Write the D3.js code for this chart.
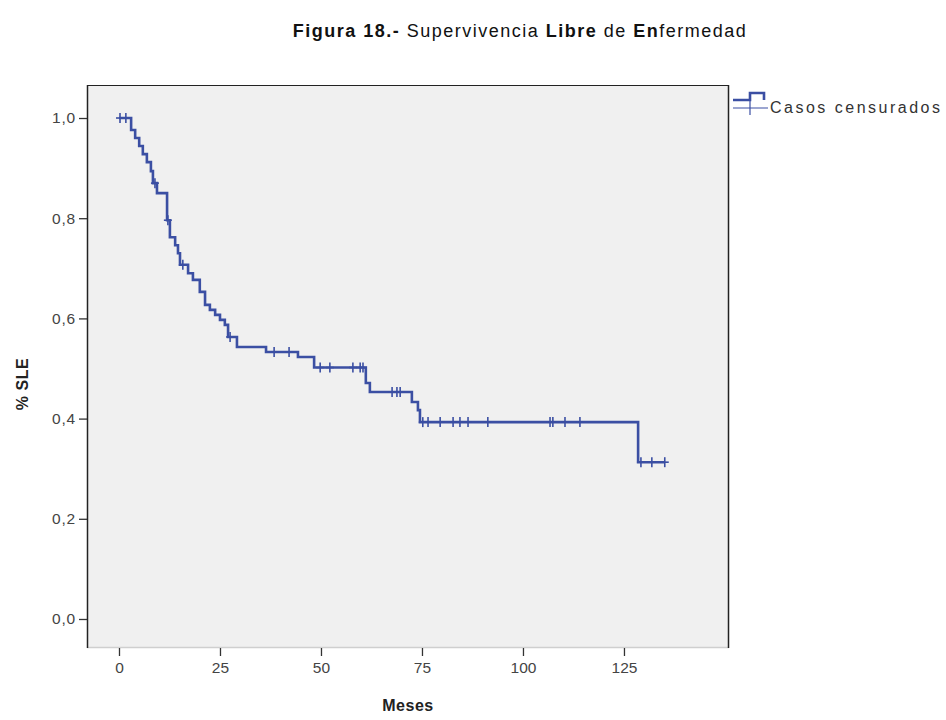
<!DOCTYPE html>
<html>
<head>
<meta charset="utf-8">
<script src="https://cdn.jsdelivr.net/npm/d3@7"></script>
<style>
  html, body { margin: 0; padding: 0; background: #ffffff; }
  svg { display: block; }
  text { font-family: "Liberation Sans", Arial, sans-serif; }
</style>
</head>
<body>
<svg id="chart" width="946" height="720"></svg>
<script>
// ---- Data ----
const eventTimes = [0, 3.0, 4.0, 5.0, 5.9, 6.9, 7.9, 8.4, 9.4, 11.9, 12.6, 13.9, 14.6, 15.1, 17.1, 18.3, 20.0, 21.3, 22.5, 23.8, 25.0, 26.2, 27.0, 29.2, 36.4, 44.3, 48.3, 61.1, 62.1, 72.5, 74.0, 74.5, 128.5];
const survival   = [1.0, 0.976, 0.960, 0.944, 0.928, 0.912, 0.894, 0.870, 0.850, 0.796, 0.762, 0.746, 0.730, 0.707, 0.690, 0.677, 0.653, 0.627, 0.617, 0.607, 0.597, 0.587, 0.563, 0.543, 0.533, 0.523, 0.502, 0.471, 0.453, 0.433, 0.417, 0.393, 0.313];
const censorTimes = [0.25, 1.7, 8.9, 12.1, 15.8, 27.5, 38.4, 42.1, 49.8, 52.2, 57.9, 59.7, 60.4, 67.6, 68.8, 69.6, 75.2, 76.5, 79.5, 82.7, 84.4, 86.4, 91.3, 106.7, 107.4, 110.4, 114.1, 129.2, 131.9, 135.1];
const endTime = 135.1;
const xTicks = [0, 25, 50, 75, 100, 125];
const yTicks = [0, 0.2, 0.4, 0.6, 0.8, 1.0];
const titleParts = [["Figura 18.- ", true], ["Supervivencia ", false], ["Libre ", true], ["de ", false], ["En", true], ["fermedad", false]];
const xLabel = "Meses";
const yLabel = "% SLE";
const legendLabel = "Casos censurados";

// ---- Layout ----
const svg = d3.select("#chart");
const plot = { left: 87, top: 85, right: 729, bottom: 648 };
const curveColor = "#3b4fa3";

const x = d3.scaleLinear().domain([-7.92, 151.0]).range([plot.left, plot.right]);
const y = d3.scaleLinear().domain([-0.0579, 1.0659]).range([plot.bottom, plot.top]);

// Title
const title = svg.append("text")
  .attr("x", 520).attr("y", 37)
  .attr("text-anchor", "middle")
  .attr("font-size", 18)
  .attr("letter-spacing", 1.5)
  .attr("fill", "#111");
titleParts.forEach(([t, b]) => title.append("tspan").attr("font-weight", b ? "bold" : "normal").text(t));

// Plot background
svg.append("rect")
  .attr("x", plot.left).attr("y", plot.top)
  .attr("width", plot.right - plot.left).attr("height", plot.bottom - plot.top)
  .attr("fill", "#f0f0f0");

// Frame
svg.append("line").attr("x1", plot.left).attr("x2", plot.right).attr("y1", plot.top + 0.5).attr("y2", plot.top + 0.5).attr("stroke", "#222").attr("stroke-width", 1.2);
svg.append("line").attr("x1", plot.left).attr("x2", plot.right).attr("y1", plot.bottom - 0.5).attr("y2", plot.bottom - 0.5).attr("stroke", "#cfcfcf").attr("stroke-width", 1.5);
svg.append("line").attr("x1", plot.left + 0.5).attr("x2", plot.left + 0.5).attr("y1", plot.top).attr("y2", plot.bottom).attr("stroke", "#222").attr("stroke-width", 1.5);
svg.append("line").attr("x1", plot.right - 0.5).attr("x2", plot.right - 0.5).attr("y1", plot.top).attr("y2", plot.bottom).attr("stroke", "#222").attr("stroke-width", 1.5);

// Y axis
const yAxis = d3.axisLeft(y).tickValues(yTicks).tickSize(8).tickPadding(3)
  .tickFormat(d => d3.format(".1f")(d).replace(".", ","));
const gy = svg.append("g").attr("transform", `translate(${plot.left},0)`).call(yAxis);
gy.select(".domain").remove();
gy.selectAll(".tick line").attr("stroke", "#333").attr("stroke-width", 1.3);
gy.selectAll(".tick text").attr("font-size", 15.5).attr("letter-spacing", 0.8).attr("fill", "#444").attr("font-family", "Liberation Sans, Arial, sans-serif");

// X axis
const xAxis = d3.axisBottom(x).tickValues(xTicks).tickSize(8).tickPadding(6).tickFormat(d3.format("d"));
const gx = svg.append("g").attr("transform", `translate(0,${plot.bottom})`).call(xAxis);
gx.select(".domain").remove();
gx.selectAll(".tick line").attr("stroke", "#333").attr("stroke-width", 1.3);
gx.selectAll(".tick text").attr("font-size", 15.5).attr("fill", "#444").attr("font-family", "Liberation Sans, Arial, sans-serif");

// Axis titles
svg.append("text").attr("x", (plot.left + plot.right) / 2).attr("y", 711)
  .attr("text-anchor", "middle").attr("font-size", 16).attr("letter-spacing", 0.5).attr("font-weight", "bold").attr("fill", "#222").text(xLabel);
svg.append("text").attr("transform", `translate(28,384) rotate(-90)`)
  .attr("text-anchor", "middle").attr("font-size", 16).attr("letter-spacing", 0.5).attr("font-weight", "bold").attr("fill", "#222").text(yLabel);

// Survival curve
const pts = eventTimes.map((t, i) => [t, survival[i]]);
pts.push([endTime, survival[survival.length - 1]]);
const line = d3.line().x(d => x(d[0])).y(d => y(d[1])).curve(d3.curveStepAfter);
svg.append("path").datum(pts)
  .attr("d", line).attr("fill", "none")
  .attr("stroke", curveColor).attr("stroke-width", 2.6);

// Censor marks
function survAt(t) {
  let s = survival[0];
  for (let i = 0; i < eventTimes.length; i++) { if (eventTimes[i] <= t) s = survival[i]; }
  return s;
}
const cg = svg.append("g").attr("stroke", curveColor).attr("stroke-width", 1.6);
censorTimes.forEach(t => {
  const cx = x(t), cy = y(survAt(t));
  cg.append("line").attr("x1", cx).attr("x2", cx).attr("y1", cy - 5).attr("y2", cy + 5);
  cg.append("line").attr("x1", cx - 4).attr("x2", cx + 4).attr("y1", cy).attr("y2", cy);
});

// Legend
const lg = svg.append("g");
lg.append("path")
  .attr("d", "M733,100 L750,100 L750,93 L764,93 L764,100")
  .attr("fill", "none").attr("stroke", curveColor).attr("stroke-width", 2.6);
lg.append("line").attr("x1", 733).attr("x2", 768).attr("y1", 108).attr("y2", 108).attr("stroke", curveColor).attr("stroke-width", 1.2);
lg.append("line").attr("x1", 750).attr("x2", 750).attr("y1", 101).attr("y2", 115).attr("stroke", curveColor).attr("stroke-width", 1.2);
lg.append("text").attr("x", 770).attr("y", 113).attr("font-size", 16).attr("letter-spacing", 2.5).attr("fill", "#333").text(legendLabel);
</script>
</body>
</html>
